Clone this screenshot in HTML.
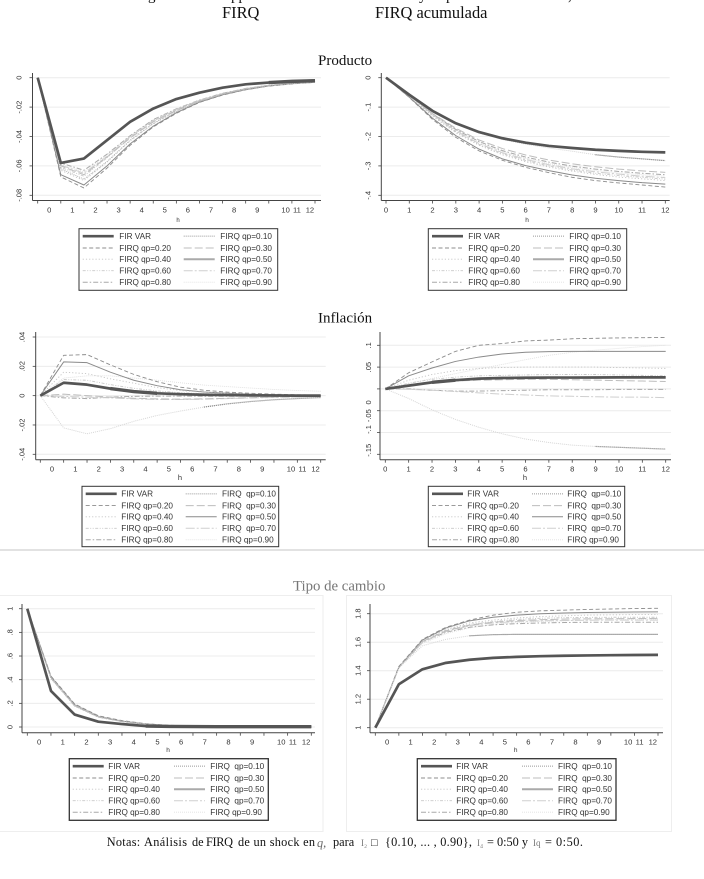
<!DOCTYPE html>
<html lang="es">
<head>
<meta charset="utf-8">
<title>FIRQ</title>
<style>
html,body{margin:0;padding:0;background:#fff;width:704px;height:879px;overflow:hidden}
svg{display:block;position:absolute;left:0;top:0;filter:blur(.3px)}
.serif{font-family:"Liberation Serif","Noto Serif CJK SC",serif;fill:#111}
.sans{font-family:"Liberation Sans",sans-serif;fill:#333;white-space:pre}
</style>
</head>
<body>
<svg id="fig" width="704" height="879" viewBox="0 0 704 879" xmlns="http://www.w3.org/2000/svg">
<rect x="0" y="0" width="704" height="879" fill="#fff"/>
<g class="serif" font-size="15">
<text x="148" y="0">g</text>
<text x="231" y="0">pp</text>
<text x="419" y="0">y</text>
<text x="446" y="0">p</text>
<text x="568" y="0">,</text>
</g>
<text class="serif" font-size="16.4" x="222" y="18">FIRQ</text>
<text class="serif" font-size="16.4" x="375" y="18">FIRQ acumulada</text>
<text class="serif" font-size="15" x="318" y="65">Producto</text>
<text class="serif" font-size="15" x="318" y="322.7">Inflación</text>
<line x1="0" x2="704" y1="550" y2="550" stroke="#c4c4c4" stroke-width="1"/>
<text class="serif" font-size="14.8" x="293" y="590.7" style="fill:#777">Tipo de cambio</text>
<rect x="-2" y="595.5" width="325" height="236" fill="none" stroke="#eeeeee"/>
<rect x="346.5" y="595.5" width="325" height="236" fill="none" stroke="#eeeeee"/>
<g class="serif" font-size="12.3">
<text x="106.7" y="846" textLength="33.5" lengthAdjust="spacing">Notas:</text>
<text x="144" y="846" textLength="43" lengthAdjust="spacing">Análisis</text>
<text x="192" y="846">de</text>
<text x="206" y="846" textLength="27" lengthAdjust="spacing">FIRQ</text>
<text x="238" y="846" textLength="77" lengthAdjust="spacing">de un shock en</text>
<text x="317" y="847" font-style="italic" style="fill:#666">q,</text>
<text x="333" y="846">para</text>
<text x="361" y="846" font-size="9" style="fill:#777">I₂</text>
<text x="371" y="846" font-size="11">□</text>
<text x="385" y="846" textLength="87" lengthAdjust="spacing">{0.10, ... , 0.90},</text>
<text x="477" y="846" font-size="9" style="fill:#777">I₄</text>
<text x="487" y="846" textLength="41" lengthAdjust="spacing">= 0:50 y</text>
<text x="533" y="846" font-size="9" style="fill:#777">Iq</text>
<text x="545" y="846" textLength="38" lengthAdjust="spacing">= 0:50.</text>
</g>
</svg>
<script>
// ---- Horizons
const horizons = [0,1,2,3,4,5,6,7,8,9,10,11,12];

// ---- Producto, FIRQ
const prodVar = [0,-.058,-.055,-.0425,-.030,-.021,-.0145,-.0102,-.0068,-.0045,-.0033,-.0025,-.002];
const prodQ10 = [0,-.062,-.069,-.057,-.0425,-.031,-.0228,-.0160,-.0112,-.0078,-.0054,-.0040,-.0030];
const prodQ20 = [0,-.0675,-.075,-.0615,-.046,-.0335,-.0242,-.0168,-.0118,-.0082,-.0057,-.0042,-.0032];
const prodQ30 = [0,-.060,-.066,-.054,-.041,-.030,-.0222,-.0158,-.0110,-.0076,-.0053,-.0039,-.0029];
const prodQ40 = [0,-.063,-.070,-.0575,-.043,-.0315,-.0230,-.0162,-.0114,-.0079,-.0055,-.0041,-.0031];
const prodQ50 = [0,-.066,-.073,-.060,-.045,-.033,-.0238,-.0166,-.0116,-.0081,-.0056,-.0041,-.0031];
const prodQ60 = [0,-.061,-.067,-.0545,-.0405,-.0295,-.0220,-.0156,-.0109,-.0075,-.0052,-.0038,-.0029];
const prodQ70 = [0,-.0595,-.065,-.0535,-.040,-.029,-.0216,-.0154,-.0108,-.0074,-.0052,-.0038,-.0028];
const prodQ80 = [0,-.058,-.063,-.052,-.0395,-.0285,-.0212,-.0152,-.0106,-.0073,-.0051,-.0037,-.0028];
const prodQ90 = [0,-.059,-.064,-.0525,-.0398,-.0288,-.0214,-.0153,-.0107,-.0074,-.0051,-.0037,-.0028];

// ---- Producto, FIRQ acumulada
const prodAcVar = [0,-.058,-.113,-.155,-.185,-.206,-.221,-.232,-.239,-.245,-.249,-.252,-.254];
const prodAcQ10 = [0,-.059,-.115,-.157,-.188,-.210,-.226,-.239,-.250,-.262,-.270,-.276,-.282];
const prodAcQ20 = [0,-.067,-.142,-.203,-.249,-.281,-.305,-.323,-.339,-.350,-.358,-.365,-.372];
const prodAcQ30 = [0,-.060,-.122,-.172,-.212,-.241,-.263,-.280,-.293,-.303,-.311,-.317,-.322];
const prodAcQ40 = [0,-.063,-.131,-.187,-.230,-.262,-.286,-.304,-.318,-.329,-.338,-.344,-.350];
const prodAcQ50 = [0,-.066,-.138,-.197,-.243,-.276,-.299,-.316,-.331,-.342,-.350,-.357,-.362];
const prodAcQ60 = [0,-.061,-.128,-.184,-.227,-.258,-.282,-.300,-.314,-.325,-.333,-.339,-.345];
const prodAcQ70 = [0,-.060,-.126,-.181,-.224,-.255,-.278,-.296,-.310,-.320,-.328,-.335,-.340];
const prodAcQ80 = [0,-.058,-.123,-.176,-.217,-.248,-.270,-.287,-.301,-.311,-.319,-.325,-.330];
const prodAcQ90 = [0,-.059,-.125,-.178,-.220,-.251,-.274,-.292,-.306,-.316,-.324,-.330,-.335];

// ---- Inflacion, FIRQ
const inflVar = [0,.0088,.0075,.0048,.0028,.0016,.0010,.0006,.0004,.0002,.0001,0,0];
const inflQ10 = [0,-.022,-.026,-.0225,-.0175,-.0135,-.0105,-.0078,-.0056,-.004,-.0028,-.002,-.0013];
const inflQ20 = [0,.0275,.028,.021,.0145,.0095,.0058,.0037,.0024,.0016,.0010,.0006,.0003];
const inflQ30 = [0,.001,0,-.001,-.0018,-.0022,-.0024,-.0022,-.0018,-.0014,-.001,-.0008,-.0006];
const inflQ40 = [0,.016,.015,.0115,.0085,.0055,.0035,.0022,.0014,.0008,.0005,.0003,.0001];
const inflQ50 = [0,.023,.0225,.016,.0105,.0068,.004,.0025,.0016,.001,.0006,.0003,.0002];
const inflQ60 = [0,.011,.0105,.0075,.005,.0032,.002,.0013,.0008,.0005,.0003,.0002,.0001];
const inflQ70 = [0,-.0005,-.001,-.0015,-.0022,-.0026,-.0026,-.0024,-.002,-.0016,-.0012,-.0009,-.0006];
const inflQ80 = [0,-.0015,-.002,-.001,-.0005,-.0003,-.0003,-.0004,-.0004,-.0003,-.0003,-.0002,-.0002];
const inflQ90 = [0,.012,.0135,.0135,.012,.0105,.0088,.0072,.0062,.0052,.0042,.0035,.003];

// ---- Inflacion, FIRQ acumulada
const inflAcVar = [0,.0075,.015,.02,.0235,.025,.0255,.026,.026,.0262,.0264,.0265,.0265];
const inflAcQ10 = [0,-.022,-.048,-.07,-.088,-.103,-.115,-.123,-.129,-.132,-.134,-.136,-.138];
const inflAcQ20 = [0,.037,.062,.086,.10,.104,.11,.112,.115,.116,.117,.1175,.118];
const inflAcQ30 = [0,.006,.014,.018,.02,.021,.022,.022,.021,.02,.019,.018,.017];
const inflAcQ40 = [0,.02,.033,.042,.047,.049,.05,.05,.05,.05,.049,.048,.047];
const inflAcQ50 = [0,.03,.048,.063,.073,.08,.084,.0855,.086,.086,.086,.086,.086];
const inflAcQ60 = [0,.013,.022,.027,.03,.031,.032,.033,.033,.033,.032,.031,.03];
const inflAcQ70 = [0,-.001,-.003,-.006,-.009,-.012,-.014,-.016,-.017,-.018,-.019,-.019,-.02];
const inflAcQ80 = [0,0,-.003,-.005,-.005,-.004,-.003,-.002,-.002,-.002,-.001,-.001,-.001];
const inflAcQ90 = [0,.012,.024,.035,.046,.056,.067,.077,.084,.089,.093,.097,.1];

// ---- Tipo de cambio, FIRQ
const tcVar = [1,.305,.105,.045,.025,.008,.005,.004,.003,.003,.003,.003,.003];
const tcQ10 = [1,.41,.18,.085,.048,.024,.012,.008,.005,.004,.003,.003,.002];
const tcQ20 = [1,.43,.195,.095,.054,.028,.014,.009,.006,.004,.003,.003,.002];
const tcQ30 = [1,.42,.185,.09,.05,.026,.013,.008,.005,.004,.003,.003,.002];
const tcQ40 = [1,.425,.19,.092,.052,.027,.013,.009,.006,.004,.003,.003,.002];
const tcQ50 = [1,.425,.19,.09,.05,.025,.012,.008,.005,.004,.003,.003,.002];
const tcQ60 = [1,.42,.185,.088,.05,.025,.012,.008,.005,.004,.003,.002,.002];
const tcQ70 = [1,.415,.18,.086,.048,.024,.012,.008,.005,.004,.003,.002,.002];
const tcQ80 = [1,.415,.178,.084,.046,.023,.011,.007,.005,.004,.003,.002,.002];
const tcQ90 = [1,.41,.175,.082,.045,.022,.011,.007,.005,.004,.003,.002,.002];

// ---- Tipo de cambio, FIRQ acumulada
const tcAcVar = [1,1.305,1.41,1.455,1.477,1.49,1.497,1.502,1.505,1.507,1.509,1.51,1.511];
const tcAcQ10 = [1,1.42,1.575,1.62,1.645,1.653,1.655,1.655,1.655,1.655,1.655,1.655,1.655];
const tcAcQ20 = [1,1.43,1.62,1.705,1.755,1.79,1.81,1.82,1.825,1.83,1.833,1.836,1.838];
const tcAcQ30 = [1,1.425,1.605,1.68,1.72,1.74,1.752,1.758,1.762,1.764,1.765,1.766,1.767];
const tcAcQ40 = [1,1.425,1.61,1.69,1.735,1.755,1.77,1.78,1.785,1.79,1.792,1.794,1.795];
const tcAcQ50 = [1,1.425,1.615,1.7,1.75,1.775,1.79,1.8,1.805,1.808,1.81,1.812,1.813];
const tcAcQ60 = [1,1.425,1.605,1.685,1.725,1.745,1.76,1.768,1.772,1.774,1.775,1.775,1.775];
const tcAcQ70 = [1,1.425,1.6,1.675,1.715,1.735,1.745,1.75,1.752,1.754,1.755,1.755,1.755];
const tcAcQ80 = [1,1.42,1.6,1.67,1.705,1.722,1.73,1.735,1.738,1.74,1.74,1.74,1.74];
const tcAcQ90 = [1,1.42,1.59,1.66,1.7,1.725,1.738,1.745,1.75,1.755,1.758,1.76,1.762];

// ---- Y axis ticks and labels
const prodYTicks = [0,-.02,-.04,-.06,-.08];
const prodYLabels = ["0","-.02","-.04","-.06","-.08"];
const prodAcYTicks = [0,-.1,-.2,-.3,-.4];
const prodAcYLabels = ["0","-.1","-.2","-.3","-.4"];
const inflYTicks = [.04,.02,0,-.02,-.04];
const inflYLabels = [".04",".02","0","-.02","-.04"];
const inflAcYTicks = [.1,.05,0,-.05,-.1,-.15];
const inflAcYLabels = [".1",".05","0","-.05","-.1","-.15"];
const tcYTicks = [1,.8,.6,.4,.2,0];
const tcYLabels = ["1",".8",".6",".4",".2","0"];
const tcAcYTicks = [1.8,1.6,1.4,1.2,1];
const tcAcYLabels = ["1.8","1.6","1.4","1.2","1"];

// ---- Legend labels
const seriesKeys = ["fir-var","firq-qp-10","firq-qp-20","firq-qp-30","firq-qp-40","firq-qp-50","firq-qp-60","firq-qp-70","firq-qp-80","firq-qp-90"];
const legendLabelsTight = ["FIR VAR","FIRQ qp=0.10","FIRQ qp=0.20","FIRQ qp=0.30","FIRQ qp=0.40","FIRQ qp=0.50","FIRQ qp=0.60","FIRQ qp=0.70","FIRQ qp=0.80","FIRQ qp=0.90"];
const legendLabelsWide = ["FIR VAR","FIRQ  qp=0.10","FIRQ qp=0.20","FIRQ  qp=0.30","FIRQ qp=0.40","FIRQ  qp=0.50","FIRQ qp=0.60","FIRQ  qp=0.70","FIRQ qp=0.80","FIRQ qp=0.90"];

// ---- Styles
const SVGNS = "http://www.w3.org/2000/svg";
const baseStyles = [
 {c:"#555555",w:2.7,d:""},
 {c:"#b5b5b5",w:1,d:"1 1"},
 {c:"#8c8c8c",w:.9,d:"4 2.5"},
 {c:"#bdbdbd",w:1,d:"8 3"},
 {c:"#c4c4c4",w:.9,d:"1.2 2"},
 {c:"#8a8a8a",w:1,d:""},
 {c:"#c8c8c8",w:.9,d:"3 1.5 1 1.5 1 1.5"},
 {c:"#cfcfcf",w:1,d:"9 2 2 2"},
 {c:"#a8a8a8",w:1,d:"5 2 1.5 2"},
 {c:"#e0e0e0",w:.9,d:"1 1"}
];

const panels = [
 {key:"producto-firq",series:[prodVar,prodQ10,prodQ20,prodQ30,prodQ40,prodQ50,prodQ60,prodQ70,prodQ80,prodQ90],
  yT:prodYTicks,yL:prodYLabels,yA:[0,77.7],yB:[-.08,195.3],x0:37.7,x12:315,axisX:32.5,axisY:200.5,axisTop:73,gridR:321,
  yLabX:21.7,between:true,xLabY:212.5,hX:178,hY:222,hSize:6,
  tail:null,bold:[10,12],
  leg:{x:79,y:228.7,w:198.7,h:61.6,s1:82.7,t1:119.3,s2:183.7,t2:220.3},labels:legendLabelsTight,legendSolid:2,legendStroke:1},
 {key:"producto-acumulada",series:[prodAcVar,prodAcQ10,prodAcQ20,prodAcQ30,prodAcQ40,prodAcQ50,prodAcQ60,prodAcQ70,prodAcQ80,prodAcQ90],
  yT:prodAcYTicks,yL:prodAcYLabels,yA:[0,77.7],yB:[-.4,195.3],x0:386,x12:665.3,axisX:381.3,axisY:200.5,axisTop:73,gridR:669.7,
  yLabX:370.5,between:false,xLabY:212.5,hX:527,hY:222,hSize:6.5,
  tail:9,bold:null,
  leg:{x:428.3,y:228.7,w:198.4,h:61.6,s1:432,t1:468.3,s2:533,t2:569.3},labels:legendLabelsTight,legendSolid:2,legendStroke:1},
 {key:"inflacion-firq",series:[inflVar,inflQ10,inflQ20,inflQ30,inflQ40,inflQ50,inflQ60,inflQ70,inflQ80,inflQ90],
  yT:inflYTicks,yL:inflYLabels,yA:[.04,337],yB:[-.04,454.3],x0:40.3,x12:320.7,axisX:35.7,axisY:459.7,axisTop:332,gridR:325.7,
  yLabX:24.5,between:true,xLabY:471.5,hX:180,hY:480,hSize:7.5,
  tail:7,bold:[3,5],
  leg:{x:82,y:486.3,w:196.7,h:60.4,s1:85.7,t1:121.3,s2:185.7,t2:222},labels:legendLabelsWide,legendSolid:1,legendStroke:1},
 {key:"inflacion-acumulada",series:[inflAcVar,inflAcQ10,inflAcQ20,inflAcQ30,inflAcQ40,inflAcQ50,inflAcQ60,inflAcQ70,inflAcQ80,inflAcQ90],
  yT:inflAcYTicks,yL:inflAcYLabels,yA:[.1,345.3],yB:[-.15,454.3],x0:385.3,x12:665.7,axisX:380,axisY:459.7,axisTop:332,gridR:671,
  yLabX:371,between:false,xLabY:471.5,hX:525,hY:480,hSize:7.5,
  tail:9,bold:[2,3],
  yLabShift:{"0":13.5,"-.05":5,"-.1":-3,"-.15":-4},
  leg:{x:428.3,y:486.3,w:196.4,h:60.4,s1:432,t1:467.3,s2:532,t2:567.3},labels:legendLabelsWide,legendSolid:1,legendStroke:1},
 {key:"tipo-de-cambio-firq",series:[tcVar,tcQ10,tcQ20,tcQ30,tcQ40,tcQ50,tcQ60,tcQ70,tcQ80,tcQ90],
  yT:tcYTicks,yL:tcYLabels,yA:[1,608.7],yB:[0,727],x0:27.3,x12:311.3,axisX:22,axisY:732.7,axisTop:604,gridR:315,
  yLabX:12.5,between:true,xLabY:744.5,hX:168,hY:752,hSize:6.5,
  tail:null,bold:[5,12],
  leg:{x:69.3,y:758.7,w:199,h:61.6,s1:72.7,t1:108.3,s2:174,t2:210.3},labels:legendLabelsWide,legendSolid:2,legendStroke:1.3},
 {key:"tipo-de-cambio-acumulada",series:[tcAcVar,tcAcQ10,tcAcQ20,tcAcQ30,tcAcQ40,tcAcQ50,tcAcQ60,tcAcQ70,tcAcQ80,tcAcQ90],
  yT:tcAcYTicks,yL:tcAcYLabels,yA:[1.8,613.7],yB:[1,727.7],x0:375.3,x12:658,axisX:370,axisY:732.7,axisTop:604,gridR:663,
  yLabX:360.5,between:true,xLabY:744.5,hX:515.7,hY:752,hSize:6.5,
  tail:4,bold:null,
  leg:{x:417.3,y:758.7,w:198.7,h:61.6,s1:421,t1:456.3,s2:522,t2:558},labels:legendLabelsWide,legendSolid:2,legendStroke:1.3}
];

function mk(tag, parent, attrs){
  const el = document.createElementNS(SVGNS, tag);
  for (const k in attrs) el.setAttribute(k, attrs[k]);
  parent.appendChild(el);
  return el;
}

// Tick-label position (in horizon units) for between-tick axes: 10-12 are squeezed together.
function betweenLabelPos(h){
  if (h === 10) return 10.73;
  if (h === 11) return 11.22;
  if (h === 12) return 11.78;
  return h + 0.5;
}

const svg = document.getElementById("fig");

panels.forEach(function(p){
  const xScale = function(h){ return p.x0 + (p.x12 - p.x0) * h / 12; };
  const yScale = function(v){ return p.yA[1] + (p.yB[1] - p.yA[1]) * (v - p.yA[0]) / (p.yB[0] - p.yA[0]); };

  const g = mk("g", svg, {});
  
  

  // gridlines + y ticks + y labels
  p.yT.forEach(function(v, i){
    const y = yScale(v);
    const grid = mk("line", g, {x1:p.axisX, x2:p.gridR, y1:y, y2:y, stroke:"#ececec", "stroke-width":1});
    
    
    const tick = mk("line", g, {x1:p.axisX-3, x2:p.axisX, y1:y, y2:y, stroke:"#444", "stroke-width":.8});
    
    
    const shift = (p.yLabShift && p.yLabShift[p.yL[i]]) || 0;
    const ly = y + shift;
    const t = mk("text", g, {x:p.yLabX, y:ly, "font-size":7.5, "text-anchor":"middle", "class":"sans", transform:"rotate(-90 "+p.yLabX+" "+ly+")"});
    
    
    t.textContent = p.yL[i];
  });

  // axes
  const ya = mk("line", g, {x1:p.axisX, x2:p.axisX, y1:p.axisTop, y2:p.axisY, stroke:"#444", "stroke-width":1});
  
  
  const xa = mk("line", g, {x1:p.axisX, x2:p.gridR, y1:p.axisY, y2:p.axisY, stroke:"#444", "stroke-width":1});
  
  

  horizons.forEach(function(h){
    const x = xScale(h);
    const tick = mk("line", g, {x1:x, x2:x, y1:p.axisY, y2:p.axisY+3, stroke:"#444", "stroke-width":.8});
    
    
    const lx = p.between ? xScale(betweenLabelPos(h)) : x;
    const t = mk("text", g, {x:lx, y:p.xLabY, "font-size":7.6, "text-anchor":"middle", "class":"sans"});
    
    
    t.textContent = String(h);
  });

  const ht = mk("text", g, {x:p.hX, y:p.hY, "font-size":p.hSize, "text-anchor":"middle", "class":"sans"});
  
  
  ht.textContent = "h";

  const pathFrom = function(values, from, to){
    let d = "";
    for (let k = from; k <= to; k++){
      d += (k === from ? "M" : "L") + xScale(horizons[k]).toFixed(2) + " " + yScale(values[k]).toFixed(2);
    }
    return d;
  };

  // series: quantiles in reverse, VAR last
  for (let i = p.series.length - 1; i >= 0; i--){
    const st = baseStyles[i];
    const colour = (i === 1 && p.tail !== null) ? "#d6d6d6" : st.c;
    const line = mk("path", g, {d:pathFrom(p.series[i], 0, horizons.length-1), fill:"none", stroke:colour, "stroke-width":st.w, "stroke-linejoin":"round"});
    if (st.d) line.setAttribute("stroke-dasharray", st.d);
    
    
  }

  // darker tail of the qp=0.10 line
  if (p.tail !== null){
    const tailLine = mk("path", g, {d:pathFrom(p.series[1], p.tail, horizons.length-1), fill:"none", stroke:"#777", "stroke-width":1.2, "stroke-dasharray":"1 1"});
    
    
  }
  // heavier stretch of the VAR line
  if (p.bold){
    const boldLine = mk("path", g, {d:pathFrom(p.series[0], p.bold[0], p.bold[1]), fill:"none", stroke:"#555", "stroke-width":3.4});
    
    
  }

  // legend
  const lg = mk("g", g, {});
  
  
  const L = p.leg;
  const box = mk("rect", lg, {x:L.x, y:L.y, width:L.w, height:L.h, fill:"#fff", stroke:"#333", "stroke-width":p.legendStroke});
  
  
  const rowOffsets = [7.5,19.3,30.5,42,53.5];
  p.labels.forEach(function(label, i){
    const col = i % 2;
    const row = Math.floor(i / 2);
    const y = L.y + rowOffsets[row];
    const sx = col ? L.s2 : L.s1;
    const tx = col ? L.t2 : L.t1;
    const st = baseStyles[i];
    const w = (i === 5) ? p.legendSolid : (i === 1 ? 1.3 : st.w);
    const sample = mk("line", lg, {x1:sx, x2:sx+31, y1:y, y2:y, stroke:(i === 5 && p.legendSolid === 2) ? "#aaaaaa" : st.c, "stroke-width":w});
    if (st.d) sample.setAttribute("stroke-dasharray", st.d);
    
    
    const t = mk("text", lg, {x:tx, y:y+2.8, "font-size":8.2, "class":"sans"});
    
    
    t.textContent = label;
  });
});
</script>
</body>
</html>
